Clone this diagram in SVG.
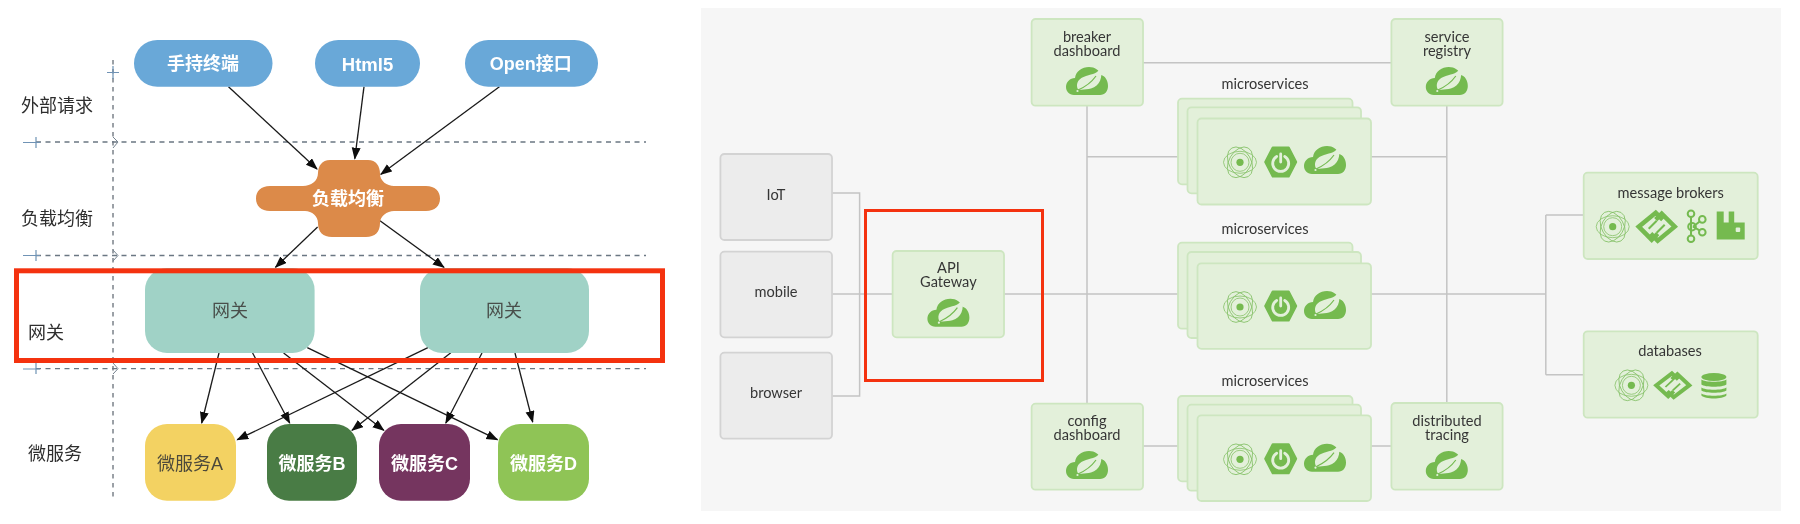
<svg xmlns="http://www.w3.org/2000/svg" width="1800" height="524" viewBox="0 0 1800 524">
<style>
.lbl{font-family:"Liberation Sans","Noto Sans CJK SC",sans-serif;font-size:18px;text-anchor:middle;dominant-baseline:central}
.w{fill:#fff;font-weight:bold}
.d{fill:#2e2e2e}
.g{fill:#4a4f4b}
.t{font-family:Lato,"Liberation Sans",sans-serif;font-size:14.6px;fill:#363636;text-anchor:middle;dominant-baseline:central}
.n{fill:#e3f0da;stroke:#cde6c0;stroke-width:1.8}
.c{fill:#ececec;stroke:#d3d3d3;stroke-width:1.8}
.wire{fill:none;stroke:#c4c4c4;stroke-width:1.5}
.arrow{fill:none;stroke:#1a1a1a;stroke-width:1.3;marker-end:url(#ah)}
.dh{fill:none;stroke:#6b7783;stroke-width:1.3;stroke-dasharray:5 4.5}
.dv{fill:none;stroke:#4a5560;stroke-width:1.1;stroke-dasharray:4.500 4.500}
.pl{fill:none;stroke:#6f93b5;stroke-width:1.2}
.red{fill:none;stroke:#f4320f}
.soft{filter:url(#b)}
.ic{fill:#74ba50}
.thin{fill:none;stroke:#86c168;stroke-width:.8}
</style>
<defs>
<filter id="b" x="-2%" y="-2%" width="104%" height="104%"><feGaussianBlur stdDeviation="0.45"/></filter>
<marker id="ah" markerWidth="14" markerHeight="10" refX="11" refY="4.500" orient="auto" markerUnits="userSpaceOnUse"><path d="M0 0L12 4.500L0 9Z" fill="#111"/></marker>
<g id="cloud">
<path class="ic" d="M-13 14C-18 14-21 10-21 6C-21 1-17-3-12-3C-11-10-5-14 2-14C8-14 12-11 14-6C18-5 21-1 21 5C21 10 18 14 13 14Z"/>
<path fill="#e3f0da" d="M-9 8.500C-12 2-8-3-1-5C6-7 11-8 13.500-13C16-4 13 5 4 7.500C0 8.500-5 9-9 8.500Z"/>
<path fill="none" stroke="#74ba50" stroke-width="1.200" d="M-9 9C-2 6 4 2 9-5"/>
<circle cx="-9.500" cy="10" r="1.100" fill="#e3f0da"/>
</g>
<g id="atom">
<circle class="thin" r="9"/>
<ellipse class="thin" rx="16.500" ry="11"/>
<ellipse class="thin" rx="16.500" ry="11" transform="rotate(60)"/>
<ellipse class="thin" rx="16.500" ry="11" transform="rotate(120)"/>
<circle class="ic" r="3.600"/>
</g>
<g id="boot">
<path class="ic" stroke="#74ba50" stroke-width="2" stroke-linejoin="round" d="M-15.500 0L-8-14.500H8L15.500 0L8 14.500H-8Z"/>
<path fill="none" stroke="#e3f0da" stroke-width="2.800" stroke-linecap="round" d="M-4-5.500A8 8 0 1 0 4-5.500M0-8V0"/>
</g>
<g id="diamond" fill="none" stroke="#74ba50" stroke-width="4.500" stroke-linejoin="miter">
<path d="M6-7L-1-14L-18 0L-5 13L1 7"/>
<path d="M-6 7L1 14L18 0L5-13L-1-7"/>
<path stroke-width="2" d="M-8 2L0-6M8-2L0 6"/>
</g>
</defs>
<rect width="1800" height="524" fill="#fff"/>

<g id="background"><rect x="701" y="8" width="1080" height="503" fill="#f6f6f6"/></g>

<g id="swimlanes" class="soft">
<path class="dv" d="M113 60V500"/>
<path class="dh" d="M36 142H646M36 255.500H646M36 368.700H646"/>
<path class="pl" d="M107 72.500H119M113 66V79M23 142.500H40M36 137V148M23 255.500H40M36 250V261M23 369H40M36 363V374"/>
<path fill="none" stroke="#76838f" stroke-width="1" d="M113 137L118 142L113 148M113 250L118 255.500L113 261M113 363L118 368.700L113 374"/>
</g>

<g id="connectors">
<g class="soft">
<path class="arrow" d="M228.500 86.700L317 169"/>
<path class="arrow" d="M364 86.700L354.800 158.700"/>
<path class="arrow" d="M499.400 86.700L380.800 174.300"/>
<path class="arrow" d="M317.600 227L275.500 267.300"/>
<path class="arrow" d="M380 220.700L444 267.300"/>
<path class="arrow" d="M219 353L201.700 423"/>
<path class="arrow" d="M252.600 353L289.700 423"/>
<path class="arrow" d="M283.600 353L383.800 430.300"/>
<path class="arrow" d="M307.300 347.700L497.500 439.700"/>
<path class="arrow" d="M427.900 347.700L237.300 439.700"/>
<path class="arrow" d="M450.800 352.700L352 430.300"/>
<path class="arrow" d="M482 353L445.800 423"/>
<path class="arrow" d="M515 353L532.700 422"/>
<path class="wire" d="M832 193H859.600V396H832M832 294H892.600M1004 294H1178M1087 105.700V403.700M1143 62.700H1391.400M1087 156.700H1178M1371 156.700H1446.800M1446.800 105.700V403M1371 294H1545.800M1545.800 215V374.700M1545.800 215H1583.700M1545.800 374.700H1583.700M1143 446H1178M1371 446H1391.400"/>
</g>
</g>

<g id="n-handheld" class="soft"><rect x="134" y="40" width="138.500" height="46.700" rx="23.300" fill="#69a8d8"/><text class="lbl w" x="203" y="64">手持终端</text></g>
<g id="n-html5" class="soft"><rect x="315" y="40" width="105" height="46.700" rx="23.300" fill="#69a8d8"/><text class="lbl w" x="367.500" y="64" style="font-size:18.500px">Html5</text></g>
<g id="n-open" class="soft"><rect x="465" y="40" width="133" height="46.700" rx="23.300" fill="#69a8d8"/><text class="lbl w" x="530.800" y="64">Open接口</text></g>

<g id="n-lb" class="soft">
<path fill="#dc8a49" d="M330 160H368C376 160 380 166 380 174C380 181 387 186 394 186H426C435 186 440 191 440 198.500C440 206 435 211 426 211H394C387 211 380 216 380 223C380 232 375 237 366 237H332C323 237 318 232 318 223C318 216 312 211 305 211H270C261 211 256 206 256 198.500C256 191 261 186 270 186H303C311 186 318 181 318 173C318 166 322 160 330 160Z"/>
<text class="lbl w" x="348" y="199">负载均衡</text>
</g>

<g id="n-gw1" class="soft"><rect x="145" y="268" width="169.600" height="85" rx="22" fill="#a0d2c6"/><text class="lbl g" x="230" y="311">网关</text></g>
<g id="n-gw2" class="soft"><rect x="420" y="268" width="169" height="85" rx="22" fill="#a0d2c6"/><text class="lbl g" x="504" y="311">网关</text></g>

<g id="n-msa" class="soft"><rect x="145" y="424" width="91" height="76.700" rx="22" fill="#f3d262"/><text class="lbl" x="190" y="463.500" fill="#4d4a3a">微服务A</text></g>
<g id="n-msb" class="soft"><rect x="267" y="424" width="90" height="76.700" rx="22" fill="#4a7c45"/><text class="lbl w" x="312" y="463.500">微服务B</text></g>
<g id="n-msc" class="soft"><rect x="379" y="424" width="91" height="76.700" rx="22" fill="#75345f"/><text class="lbl w" x="424.500" y="463.500">微服务C</text></g>
<g id="n-msd" class="soft"><rect x="498" y="424" width="91" height="76.700" rx="22" fill="#8fc456"/><text class="lbl w" x="543.500" y="463.500">微服务D</text></g>

<g id="lane-labels" class="soft">
<text class="lbl d" x="57" y="105.700">外部请求</text>
<text class="lbl d" x="57" y="219">负载均衡</text>
<text class="lbl d" x="46" y="333">网关</text>
<text class="lbl d" x="55" y="454">微服务</text>
</g>

<g id="highlight-left"><rect class="red" x="16.500" y="270.800" width="646" height="89.700" stroke-width="5"/></g>

<g class="soft">
<g id="n-iot"><rect class="c" x="720.400" y="154" width="111.600" height="86" rx="4"/><text class="t" x="776" y="194">IoT</text></g>
<g id="n-mobile"><rect class="c" x="720.400" y="251.700" width="111.600" height="85.600" rx="4"/><text class="t" x="776" y="291.500">mobile</text></g>
<g id="n-browser"><rect class="c" x="720.400" y="352.700" width="111.600" height="86" rx="4"/><text class="t" x="776" y="392.300">browser</text></g>

<g id="n-gateway"><rect class="n" x="892.600" y="251" width="111.400" height="86.300" rx="4"/><text class="t" x="948.400" y="267.500">API</text><text class="t" x="948.400" y="281.500">Gateway</text><use href="#cloud" x="948.400" y="312.700"/></g>

<g id="n-breaker"><rect class="n" x="1031.600" y="19" width="111.400" height="86.700" rx="4"/><text class="t" x="1087" y="36.300">breaker</text><text class="t" x="1087" y="50">dashboard</text><use href="#cloud" x="1087" y="81"/></g>
<g id="n-registry"><rect class="n" x="1391.400" y="19" width="111.200" height="86.700" rx="4"/><text class="t" x="1447" y="36.300">service</text><text class="t" x="1447" y="50">registry</text><use href="#cloud" x="1446.800" y="81"/></g>
<g id="n-config"><rect class="n" x="1031.600" y="403.700" width="111.400" height="86" rx="4"/><text class="t" x="1087" y="420.300">config</text><text class="t" x="1087" y="434.300">dashboard</text><use href="#cloud" x="1087" y="465"/></g>
<g id="n-tracing"><rect class="n" x="1391.400" y="403" width="111.200" height="86.700" rx="4"/><text class="t" x="1447" y="420">distributed</text><text class="t" x="1447" y="434">tracing</text><use href="#cloud" x="1446.800" y="465"/></g>

<g id="n-ms1">
<text class="t" x="1265" y="83.300">microservices</text>
<rect class="n" x="1178" y="98.700" width="174.500" height="85.600" rx="4"/>
<rect class="n" x="1187.500" y="107.300" width="173.500" height="86" rx="4"/>
<rect class="n" x="1197.500" y="118.500" width="173.500" height="86" rx="4"/>
<use href="#atom" x="1240" y="162.300"/><use href="#boot" x="1280.700" y="162"/><use href="#cloud" x="1325" y="160"/>
</g>
<g id="n-ms2">
<text class="t" x="1265" y="228.500">microservices</text>
<rect class="n" x="1178" y="242.700" width="174.500" height="86" rx="4"/>
<rect class="n" x="1187.500" y="252" width="173.500" height="86" rx="4"/>
<rect class="n" x="1197.500" y="263.300" width="173.500" height="85.500" rx="4"/>
<use href="#atom" x="1240" y="307"/><use href="#boot" x="1280.700" y="306"/><use href="#cloud" x="1325" y="305"/>
</g>
<g id="n-ms3">
<text class="t" x="1265" y="380.500">microservices</text>
<rect class="n" x="1178" y="396" width="174.500" height="85.300" rx="4"/>
<rect class="n" x="1187.500" y="404.700" width="173.500" height="86" rx="4"/>
<rect class="n" x="1197.500" y="415.300" width="173.500" height="85.700" rx="4"/>
<use href="#atom" x="1240" y="459.300"/><use href="#boot" x="1280.700" y="458.700"/><use href="#cloud" x="1325" y="457.700"/>
</g>

<g id="n-brokers">
<rect class="n" x="1583.700" y="172.700" width="174" height="86.300" rx="4"/>
<text class="t" x="1670.700" y="192.200">message brokers</text>
<use href="#atom" x="1612.700" y="226.700"/>
<use href="#diamond" x="1656.700" y="226.700"/>
<g transform="translate(1696 226.700)" fill="none" stroke="#74ba50" stroke-width="2">
<path d="M-5-9.500V9M-3 0L4-5.500M-3 0L4 4"/>
<circle cx="-5" cy="-13" r="3.300"/><circle cx="6.300" cy="-7.300" r="3.300"/><circle cx="-4" cy="0" r="3.800"/><circle cx="6.300" cy="5.500" r="3.300"/><circle cx="-5" cy="12" r="3.300"/>
</g>
<g transform="translate(1730.700 225.500)">
<path class="ic" d="M-14-14H-7V-3H-2V-14H3.500V-3H14V14H-14Z"/>
<rect x="5" y="2" width="4.500" height="4.500" rx="1" fill="#e3f0da"/>
</g>
</g>

<g id="n-databases">
<rect class="n" x="1583.700" y="331.300" width="174" height="86.400" rx="4"/>
<text class="t" x="1670" y="350.200">databases</text>
<use href="#atom" x="1631.400" y="385.300"/>
<g transform="translate(1672.800 385.300) scale(.92 .85)"><use href="#diamond"/></g>
<g transform="translate(1713.900 386)" class="ic">
<ellipse cx="0" cy="-9" rx="12.500" ry="4"/>
<path d="M-12.500-6.500C-9-3.500 9-3.500 12.500-6.500V-1.500C9 1.500-9 1.500-12.500-1.500Z"/>
<path d="M-12.500 1C-9 4 9 4 12.500 1V4C9 7-9 7-12.500 4Z" transform="translate(0 .5)"/>
<path d="M-12.500 7.500C-9 10.500 9 10.500 12.500 7.500V9.500C9 13.500-9 13.500-12.500 9.500Z"/>
</g>
</g>
</g>

<g id="highlight-right"><rect class="red" x="865.500" y="210.500" width="177" height="170" stroke-width="3"/></g>
</svg>
